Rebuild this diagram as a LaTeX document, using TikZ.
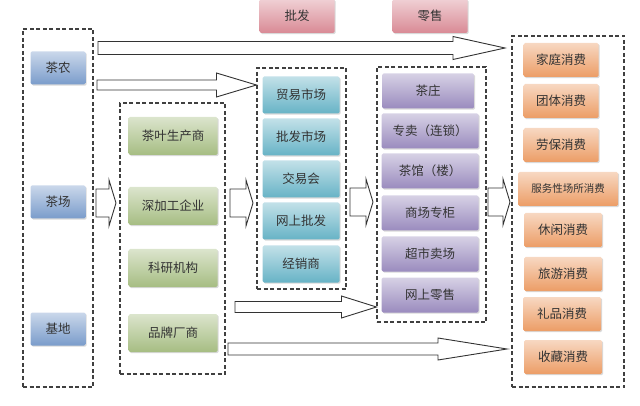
\documentclass[tikz,border=0pt]{standalone}
\usepackage{fontspec}
\newfontfamily\cjk{Noto Sans CJK SC}
\usepackage{xcolor}
\usepackage{tikz}
\usetikzlibrary{calc,shadows}

\definecolor{blueB}{HTML}{7A9CCB}
\definecolor{greenB}{HTML}{A6BD82}
\definecolor{tealB}{HTML}{67B3C6}
\definecolor{purpB}{HTML}{9A8BBE}
\definecolor{orngB}{HTML}{EC9D66}
\definecolor{pinkB}{HTML}{D98A95}

% hollow block arrow: start, tip, half shaft, half head, head length
\newcommand{\fatarrow}[5]{%
  \draw[fat] ($(#1)+(0,-#3)$) -- ($(#2)+(-#5,-#3)$) -- ($(#2)+(-#5,-#4)$) -- (#2)
    -- ($(#2)+(-#5,#4)$) -- ($(#2)+(-#5,#3)$) -- ($(#1)+(0,#3)$) -- cycle;}

\begin{document}
\begin{tikzpicture}[x=1pt, y=-1pt,
    box/.style={rounded corners=1.5pt, inner sep=0pt,
                font=\cjk\fontsize{12.5}{14}\selectfont, text=black!80,
                top color=#1!40!white, bottom color=#1,
                drop shadow={shadow xshift=1.2pt, shadow yshift=-1.2pt, opacity=0.3}},
    farmer/.style={box=blueB, minimum width=55pt, minimum height=33pt},
    maker/.style={box=greenB, minimum width=89pt, minimum height=38pt},
    whole/.style={box=tealB, minimum width=77pt, minimum height=37pt},
    retail/.style={box=purpB, minimum width=97pt, minimum height=35pt},
    consume/.style={box=orngB, minimum width=75pt, minimum height=34pt},
    stage/.style={box=pinkB, minimum width=75pt, minimum height=34pt},
    zone/.style={draw=black!75, dash pattern=on 4pt off 2.5pt, line width=1.1pt},
    fat/.style={draw=black!80, fill=white, line width=0.9pt, line join=miter},
]
    \useasboundingbox (0,0) rectangle (640,406);

    % Stages
    \node[stage] (pf) at (297,16) {批发};
    \node[stage] (ls) at (430,16) {零售};

    % Dashed groups
    \node[zone, minimum width=70pt, minimum height=358pt] (g1) at (58,208) {};
    \node[zone, minimum width=105pt, minimum height=271pt] (g2) at (172.5,238.5) {};
    \node[zone, minimum width=89pt, minimum height=221pt] (g3) at (301.5,178.5) {};
    \node[zone, minimum width=109pt, minimum height=255pt] (g4) at (431.5,194.5) {};
    \node[zone, minimum width=112pt, minimum height=351pt] (g5) at (568,211.5) {};

    % Producers
    \node[farmer] (cn) at (58,68) {茶农};
    \node[farmer] (cc) at (58,202) {茶场};
    \node[farmer] (jd) at (58,329) {基地};

    % Processors
    \node[maker] (scs) at (173,136) {茶叶生产商};
    \node[maker] (sjg) at (173,206) {深加工企业};
    \node[maker] (kyj) at (173,268) {科研机构};
    \node[maker] (ppc) at (173,333) {品牌厂商};

    % Wholesale
    \node[whole] (mysc) at (301,95) {贸易市场};
    \node[whole] (pfsc) at (301,137) {批发市场};
    \node[whole] (jyh) at (301,179) {交易会};
    \node[whole] (wspf) at (301,221) {网上批发};
    \node[whole] (jxs) at (301,264) {经销商};

    % Retail
    \node[retail, minimum width=92pt] (cz) at (428,91) {茶庄};
    \node[retail] (zm) at (430,131) {专卖（连锁）};
    \node[retail] (cg) at (430,171) {茶馆（楼）};
    \node[retail] (sczg) at (430,213) {商场专柜};
    \node[retail] (csmc) at (430,254) {超市卖场};
    \node[retail] (wsls) at (430,295) {网上零售};

    % Consumption
    \node[consume] (jt) at (561,60) {家庭消费};
    \node[consume] (tt) at (561,101) {团体消费};
    \node[consume] (lb) at (561,145) {劳保消费};
    \node[consume, minimum width=100pt, font=\cjk\fontsize{10.5}{12}\selectfont] (fw) at (568,189) {服务性场所消费};
    \node[consume, minimum width=78pt] (xx) at (563,230) {休闲消费};
    \node[consume, minimum width=78pt] (ly) at (563,274) {旅游消费};
    \node[consume, minimum width=78pt] (lp) at (562,314) {礼品消费};
    \node[consume, minimum width=78pt] (sc) at (563,357) {收藏消费};

    % Arrow ends
    \coordinate (a1s) at (98,48);   \coordinate (a1t) at (505,48);
    \coordinate (a2s) at (97,85);   \coordinate (a2t) at (g3.west |- a2s);
    \coordinate (a3s) at (96,203);  \coordinate (a3t) at (116,203);
    \coordinate (a4s) at (230,203); \coordinate (a4t) at (253,203);
    \coordinate (a5s) at (350,202); \coordinate (a5t) at (373,202);
    \coordinate (a6s) at (488,202); \coordinate (a6t) at (510,202);
    \coordinate (a7s) at (235,307); \coordinate (a7t) at (g4.west |- a7s);
    \coordinate (a8s) at (228,349); \coordinate (a8t) at (507,349);

    % Flows
    \fatarrow{a1s}{a1t}{6.5}{11.5}{52}
    \fatarrow{a2s}{a2t}{5}{12}{40}
    \fatarrow{a3s}{a3t}{14}{23}{7}
    \fatarrow{a4s}{a4t}{14}{23}{7}
    \fatarrow{a5s}{a5t}{14}{23}{7}
    \fatarrow{a6s}{a6t}{14}{23}{7}
    \fatarrow{a7s}{a7t}{5.5}{11}{35}
    \fatarrow{a8s}{a8t}{6}{11}{69}
\end{tikzpicture}
\end{document}
